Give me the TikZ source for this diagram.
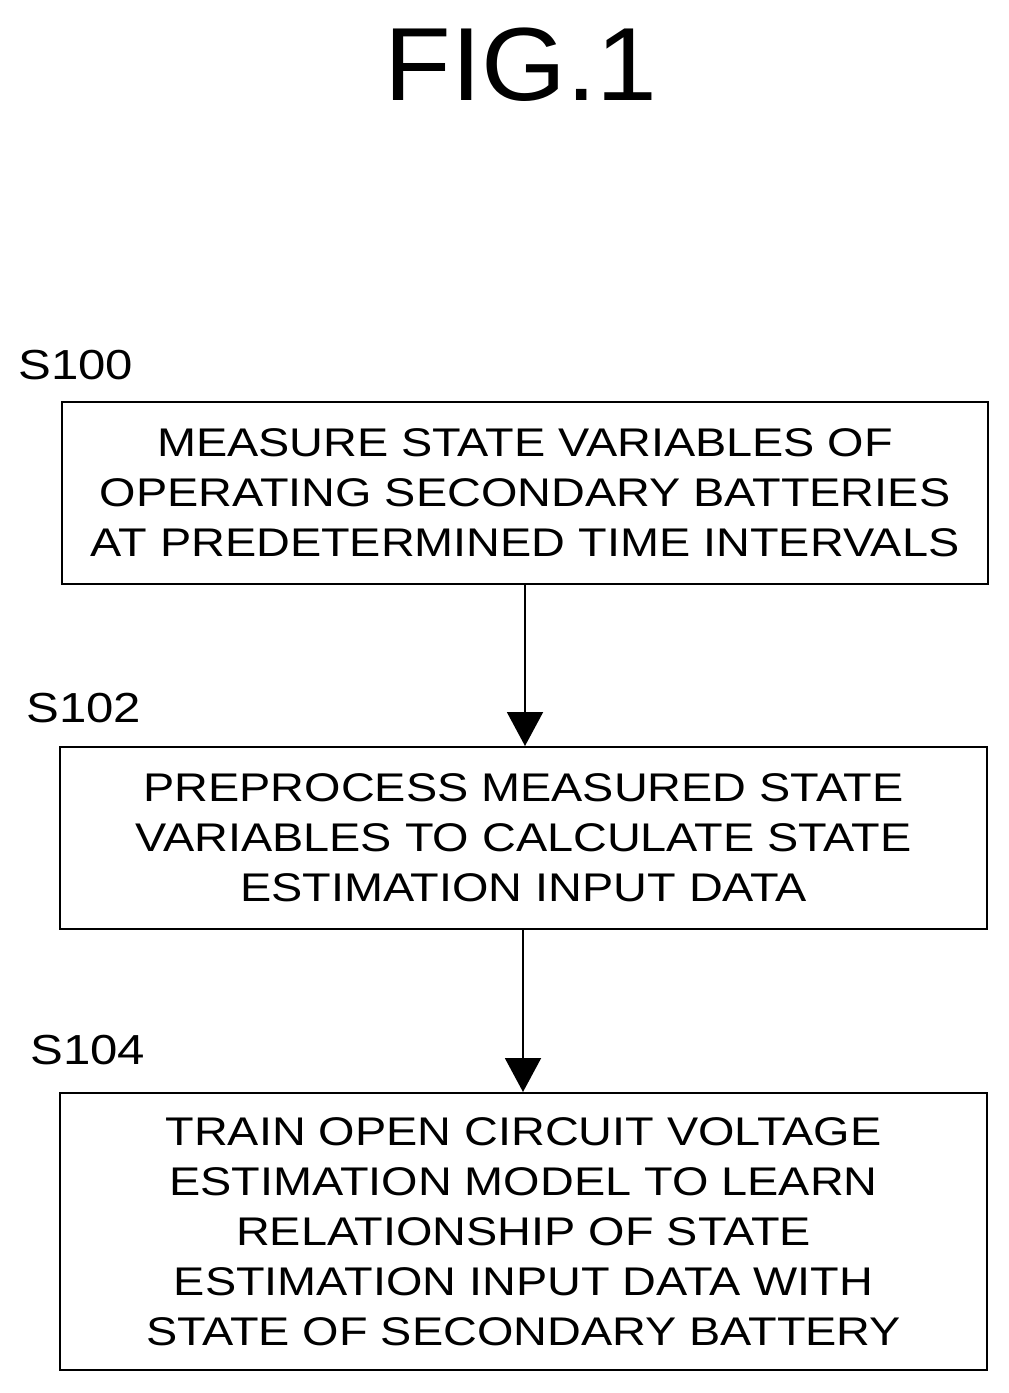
\documentclass[tikz,border=0pt]{standalone}
\usepackage{fontspec}
\setmainfont{Liberation Sans}
\newfontfamily\widefont[FakeStretch=1.17]{Liberation Sans}
\usetikzlibrary{arrows.meta}
\begin{document}
\begin{tikzpicture}[x=1pt,y=-1pt,
  box/.style={draw,line width=2pt,align=center,font=\widefont\fontsize{40}{50}\selectfont},
  lbl/.style={anchor=west,font=\widefont\fontsize{42}{50}\selectfont},
  arr/.style={line width=2pt,-{Triangle[width=36pt,length=34pt]}}]
\useasboundingbox (0,0) rectangle (1009,1393);
\node[font=\fontsize{104}{110}\selectfont\addfontfeature{FakeStretch=1.05}] (title) at (521,65) {FIG.1};
\node[box,minimum width=926pt,minimum height=182pt] (b1) at (525,493) {MEASURE STATE VARIABLES OF\\OPERATING SECONDARY BATTERIES\\AT PREDETERMINED TIME INTERVALS};
\node[box,minimum width=927pt,minimum height=182pt] (b2) at (523.5,838) {PREPROCESS MEASURED STATE\\VARIABLES TO CALCULATE STATE\\ESTIMATION INPUT DATA};
\node[box,minimum width=927pt,minimum height=277pt] (b3) at (523.5,1231.5) {TRAIN OPEN CIRCUIT VOLTAGE\\ESTIMATION MODEL TO LEARN\\RELATIONSHIP OF STATE\\ESTIMATION INPUT DATA WITH\\STATE OF SECONDARY BATTERY};
\node[lbl] (l1) at (15,365) {S100};
\node[lbl] (l2) at (23,708) {S102};
\node[lbl] (l3) at (27,1050) {S104};
\draw[arr] (b1.south -| 525,0) -- (b2.north -| 525,0);
\draw[arr] (b2.south -| 523,0) -- (b3.north -| 523,0);
\end{tikzpicture}
\end{document}
